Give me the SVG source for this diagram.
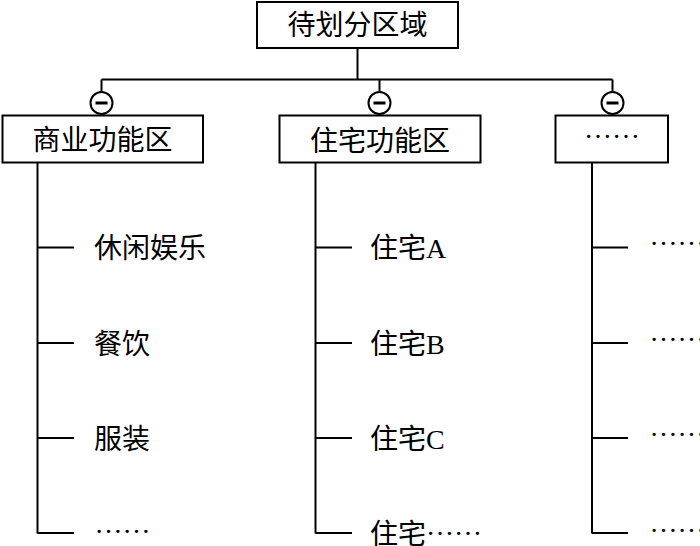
<svg xmlns="http://www.w3.org/2000/svg" width="700" height="546" viewBox="0 0 700 546">
<style>
.box{fill:#fff;stroke:#000;stroke-width:2}
.ln{fill:none;stroke:#000;stroke-width:2}
.knob{fill:#fff;stroke:#000;stroke-width:2}
.bar{stroke:#000;stroke-width:3}
text{font-family:"Liberation Serif","Noto Sans CJK SC",serif;font-size:28px;fill:#000}
.c{text-anchor:middle}
</style>
<rect width="700" height="546" fill="#fff"/>
<g id="connectors">
<path class="ln" d="M357.5 48V79.5M101.5 79.5H612.5M101.5 79.5V92M379.5 79.5V92M612.5 79.5V92"/>
<path class="ln" d="M37.5 162.5V533.5M37.5 247.5H74M37.5 343H74M37.5 438H74M37.5 533H74"/>
<path class="ln" d="M315.5 162.5V533.5M315.5 247.5H352M315.5 343H352M315.5 438H352M315.5 533H352"/>
<path class="ln" d="M592 162.5V533.5M592 247.5H628M592 343H628M592 438H628M592 533H628"/>
<g id="knob1"><circle class="knob" cx="101.5" cy="103" r="11"/><path class="bar" d="M95.5 103H107.5"/></g>
<g id="knob2"><circle class="knob" cx="379.5" cy="103" r="11"/><path class="bar" d="M373.5 103H385.5"/></g>
<g id="knob3"><circle class="knob" cx="612.5" cy="103" r="11"/><path class="bar" d="M606.5 103H618.5"/></g>
</g>
<g id="root"><rect class="box" x="257" y="2" width="201" height="46"/><text class="c" x="357.5" y="34.5">待划分区域</text></g>
<g id="commercial"><rect class="box" x="2.5" y="115.5" width="200.5" height="47"/><text class="c" x="102.5" y="150">商业功能区</text></g>
<g id="residential"><rect class="box" x="279.5" y="115.5" width="201" height="47"/><text class="c" x="380" y="150.5">住宅功能区</text></g>
<g id="other"><rect class="box" x="555.5" y="115.5" width="112.5" height="47"/><text class="c" x="612" y="137.5">……</text></g>
<g id="c1"><text x="94" y="258">休闲娱乐</text></g>
<g id="c2"><text x="94" y="354">餐饮</text></g>
<g id="c3"><text x="94" y="449">服装</text></g>
<g id="c4"><text x="94.5" y="532.5">……</text></g>
<g id="r1"><text x="370" y="258">住宅A</text></g>
<g id="r2"><text x="370" y="354">住宅B</text></g>
<g id="r3"><text x="370" y="449">住宅C</text></g>
<g id="r4"><text x="370" y="544">住宅<tspan dy="-9.5">……</tspan></text></g>
<g id="o1"><text x="649.5" y="245">……</text></g>
<g id="o2"><text x="649.5" y="340.5">……</text></g>
<g id="o3"><text x="649.5" y="436">……</text></g>
<g id="o4"><text x="649.5" y="531.5">……</text></g>
</svg>
